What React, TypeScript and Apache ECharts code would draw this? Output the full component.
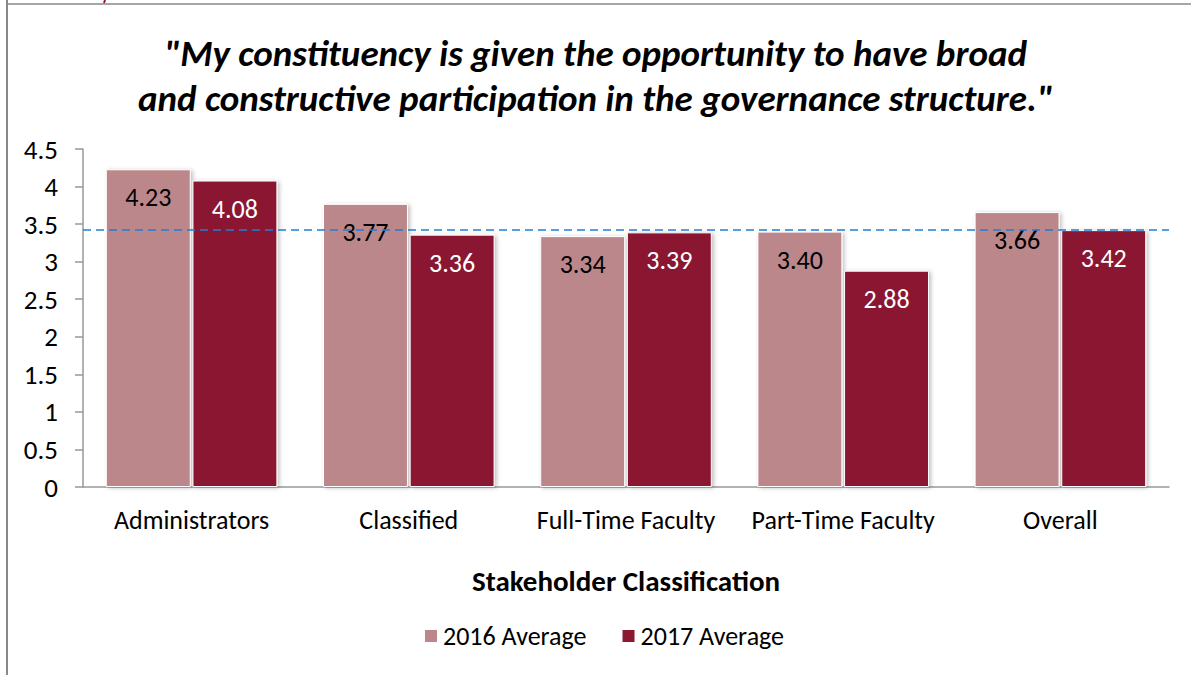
import React, { useEffect, useRef } from "react";
import * as echarts from "echarts";

const categories = ["Administrators", "Classified", "Full-Time Faculty", "Part-Time Faculty", "Overall"];
const avg2016 = [4.23, 3.77, 3.34, 3.4, 3.66];
const avg2017 = [4.08, 3.36, 3.39, 2.88, 3.42];
const referenceValue = 3.42;
const titleText = '"My constituency is given the opportunity to have broad\nand constructive participation in the governance structure."';
const axisTitle = "Stakeholder Classification";
const seriesNames = ["2016 Average", "2017 Average"];

const FONT = 'Carlito, Calibri, Lato, "Open Sans", sans-serif';

export default function App() {
  const ref = useRef<HTMLDivElement>(null);
  useEffect(() => {
    if (!ref.current) return;
    const chart = echarts.init(ref.current, null, { renderer: "svg" });
    const barStyle = (color: string) => ({
      color,
      borderColor: "#ffffff",
      borderWidth: 1,
      shadowColor: "rgba(0,0,0,0.25)",
      shadowBlur: 4,
      shadowOffsetX: 2,
      shadowOffsetY: 1,
    });
    chart.setOption({
      animation: false,
      backgroundColor: "#ffffff",
      textStyle: { fontFamily: FONT },
      title: {
        text: titleText,
        left: "center",
        top: 26,
        textStyle: {
          fontFamily: FONT,
          fontSize: 37,
          fontWeight: "bold",
          fontStyle: "italic",
          color: "#000",
          lineHeight: 45,
        },
      },
      legend: {
        data: seriesNames,
        left: 418,
        top: 618,
        itemWidth: 14,
        itemHeight: 14,
        itemGap: 34,
        icon: "rect",
        textStyle: { fontFamily: FONT, fontSize: 26, color: "#000" },
      },
      grid: { left: 83, right: 22, top: 149, bottom: 188, containLabel: false },
      xAxis: {
        type: "category",
        data: categories,
        name: axisTitle,
        nameLocation: "middle",
        nameGap: 79,
        nameTextStyle: { fontFamily: FONT, fontSize: 29, fontWeight: "bold", color: "#000" },
        axisLine: { lineStyle: { color: "#999", width: 1.5 } },
        axisTick: { show: false },
        axisLabel: { fontFamily: FONT, fontSize: 26, color: "#000", margin: 20, interval: 0 },
      },
      yAxis: {
        type: "value",
        min: 0,
        max: 4.5,
        interval: 0.5,
        splitLine: { show: false },
        axisLine: { show: true, lineStyle: { color: "#999", width: 1.5 } },
        axisTick: { show: true, length: 8, lineStyle: { color: "#999", width: 1.5 } },
        axisLabel: { fontFamily: FONT, fontSize: 27, color: "#000", margin: 25 },
      },
      series: [
        {
          name: seriesNames[0],
          type: "bar",
          data: avg2016,
          barCategoryGap: "21%",
          barGap: "2%",
          itemStyle: barStyle("#BC878A"),
          label: {
            show: true,
            position: "insideTop",
            distance: 15,
            formatter: (p: any) => p.value.toFixed(2),
            fontFamily: FONT,
            fontSize: 26,
            color: "#000",
          },
        },
        {
          name: seriesNames[1],
          type: "bar",
          data: avg2017,
          barCategoryGap: "21%",
          barGap: "2%",
          itemStyle: barStyle("#8B1730"),
          label: {
            show: true,
            position: "insideTop",
            distance: 15,
            formatter: (p: any) => p.value.toFixed(2),
            fontFamily: FONT,
            fontSize: 26,
            color: "#fff",
          },
          markLine: {
            silent: true,
            symbol: ["none", "none"],
            label: { show: false },
            lineStyle: { color: "#1f7fd6", type: [8, 5], width: 1.5 },
            data: [{ yAxis: referenceValue }],
            z: 10,
          },
        },
      ],
      graphic: [
        { type: "line", shape: { x1: 7, y1: 0, x2: 7, y2: 675 }, style: { stroke: "#888", lineWidth: 2 } },
        { type: "line", shape: { x1: 6, y1: 4, x2: 1191, y2: 4 }, style: { stroke: "#888", lineWidth: 1.5 } },
        { type: "line", shape: { x1: 105, y1: 0, x2: 104, y2: 3 }, style: { stroke: "#8B1730", lineWidth: 2 } },
      ],
    });
    return () => chart.dispose();
  }, []);
  return (
    <div
      ref={ref}
      style={{ position: "fixed", left: 0, top: 0, width: 1191, height: 675 }}
    />
  );
}
